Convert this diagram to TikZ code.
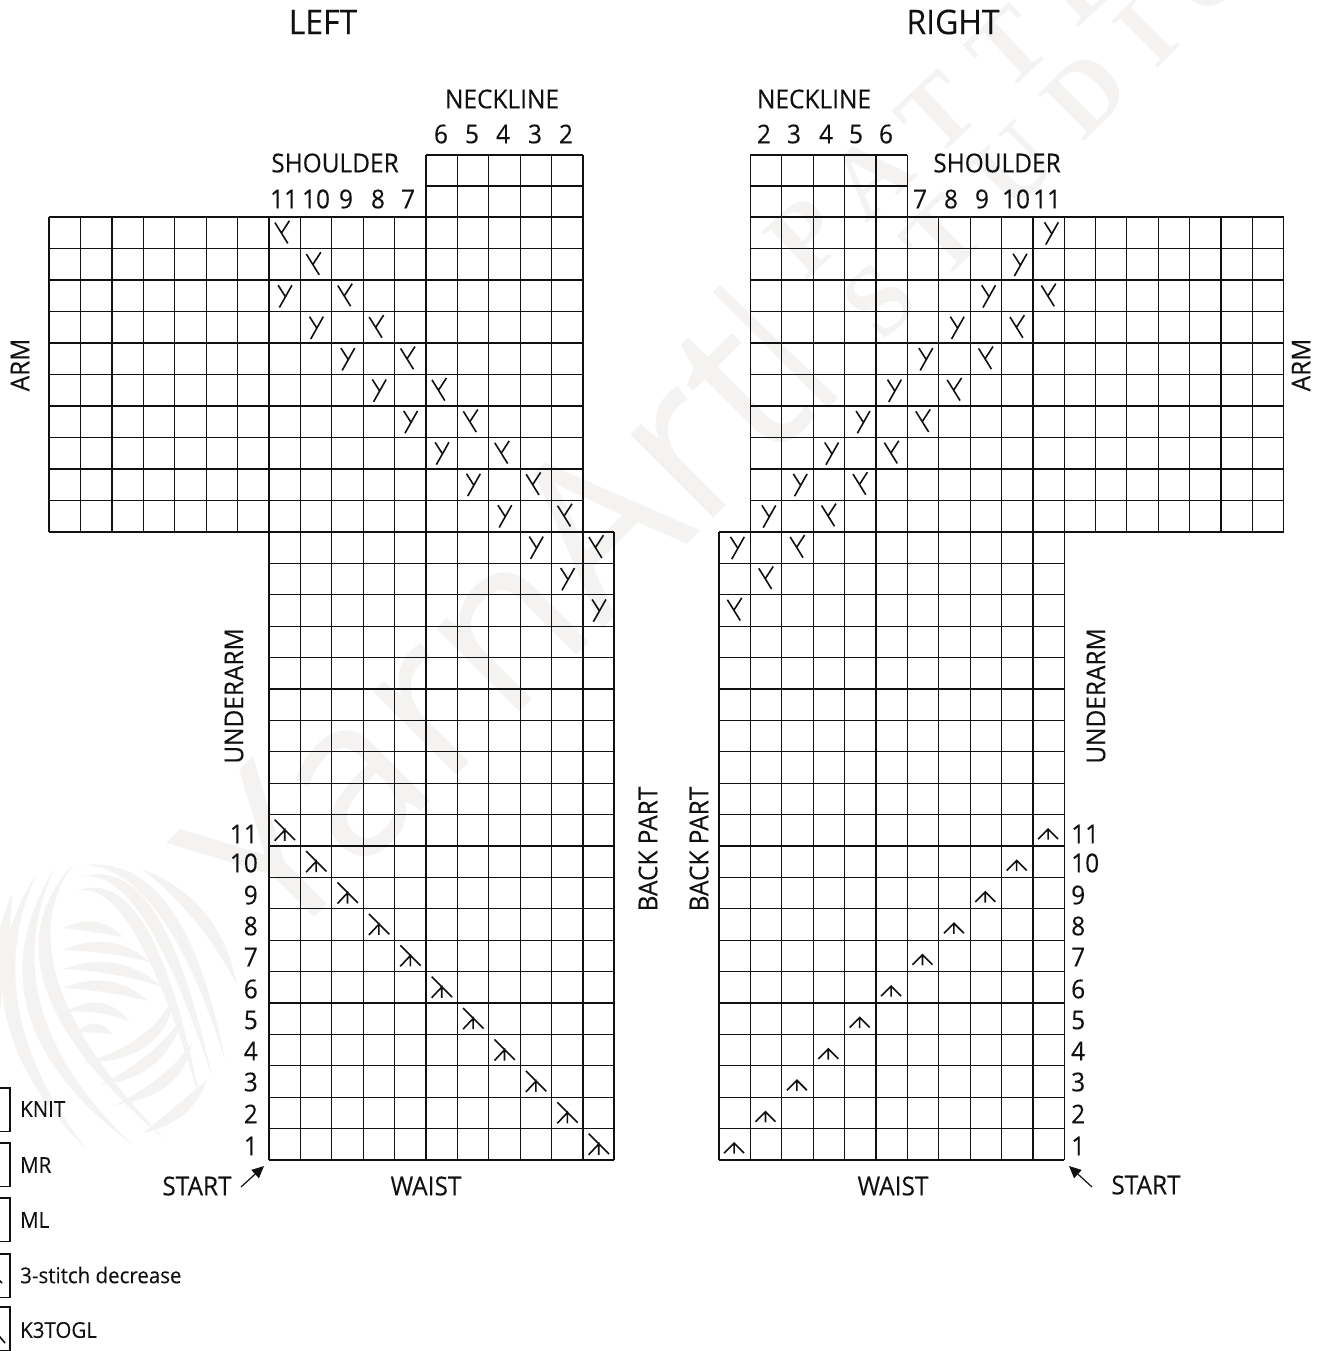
\documentclass[tikz,border=0pt]{standalone}
\usepackage{fontspec}
\setmainfont{Open Sans}[FakeStretch=0.94,FakeBold=0.15]
\newfontfamily\wmsans{Open Sans}
\newfontfamily\wmserif{Liberation Serif}[LetterSpace=30]
\usetikzlibrary{arrows.meta}
\definecolor{ink}{HTML}{111111}
\definecolor{wmcol}{HTML}{F4F3F2}
\newcommand\wmk[7]{%
  \pgfmathsetmacro\qxx{2*#3-(#1+#5)/2}%
  \pgfmathsetmacro\qyy{2*#4-(#2+#6)/2}%
  \pgfmathsetmacro\lenn{veclen(#5-#1,#6-#2)}%
  \pgfmathsetmacro\nxx{-(#6-#2)/\lenn*#7*0.85}%
  \pgfmathsetmacro\nyy{(#5-#1)/\lenn*#7*0.85}%
  \pgfmathsetmacro\axx{#1+2/3*(\qxx-#1)}%
  \pgfmathsetmacro\ayy{#2+2/3*(\qyy-#2)}%
  \pgfmathsetmacro\bxx{#5+2/3*(\qxx-#5)}%
  \pgfmathsetmacro\byy{#6+2/3*(\qyy-#6)}%
  \fill[wmcol] (#1,#2) .. controls ({\axx+\nxx},{\ayy+\nyy}) and ({\bxx+\nxx},{\byy+\nyy}) .. (#5,#6) .. controls ({\bxx-\nxx},{\byy-\nyy}) and ({\axx-\nxx},{\ayy-\nyy}) .. (#1,#2);}
\tikzset{
  x=1pt,y=-1pt,
  gridline/.style={draw=ink,line width=1.3pt},
  symline/.style={draw=ink,line width=1.6pt},
  lab/.style={inner sep=0pt,font=\fontsize{26}{30}\selectfont,text=ink},
  ttl/.style={lab,font=\fontsize{34}{38}\selectfont},
  vlab/.style={lab,rotate=90},
  leg/.style={inner sep=0pt,anchor=west,font=\fontsize{21.8}{25}\selectfont,text=ink},
  legbox/.style={draw=ink,line width=1.1pt},
  startarrow/.style={draw=ink,line width=1.2pt,-{Triangle[length=12pt,width=11pt]}},
  ymirror/.pic={\draw[symline] (0.19*31.4,0.18*31.4) -- (0.6*31.4,0.84*31.4) (0.41*31.4,0.49*31.4) -- (0.65*31.4,0.12*31.4);},
  yplain/.pic={\draw[symline] (0.33*31.4,0.88*31.4) -- (0.73*31.4,0.17*31.4) (0.29*31.4,0.17*31.4) -- (0.52*31.4,0.53*31.4);},
  decleft/.pic={\draw[symline] (0.18*31.4,0.15*31.4) -- (0.83*31.4,0.8*31.4) (0.18*31.4,0.82*31.4) -- (0.5*31.4,0.48*31.4) -- (0.5*31.4,0.82*31.4);},
  decright/.pic={\draw[symline] (0.16*31.4,0.78*31.4) -- (0.48*31.4,0.46*31.4) -- (0.8*31.4,0.78*31.4) (0.48*31.4,0.46*31.4) -- (0.48*31.4,0.8*31.4);},
}
\begin{document}
\begin{tikzpicture}
\useasboundingbox (0,0) rectangle (1325,1351);
\clip (0,0) rectangle (1325,1351);
% watermark
\node[inner sep=0pt,anchor=base west,rotate=45,text=wmcol,font=\wmsans\fontsize{220}{220}\selectfont] (wmA) at (277,955) {YarnArt};
\fill[wmcol] (713,292) -- (720,285) -- (838,398) -- (828,408) -- cycle;
\node[inner sep=0pt,anchor=base west,rotate=43,text=wmcol,font=\wmserif\bfseries\fontsize{100}{100}\selectfont] (wmB) at (805,282) {PATTERN};
\node[inner sep=0pt,anchor=base west,rotate=45,text=wmcol,font=\wmserif\bfseries\fontsize{100}{100}\selectfont] (wmC) at (882,344) {STUDIO};
% yarn ball
\wmk{12}{895}{2}{950}{0}{1010}{9}
\wmk{37}{873}{12}{1010}{87}{1150}{11}
\wmk{55}{867}{35}{1010}{133}{1145}{11}
\wmk{75}{862}{52}{985}{165}{1140}{11}
\wmk{85}{865}{165}{912}{225}{1060}{10}
\wmk{82}{877}{150}{917}{212}{1077}{10}
\wmk{75}{892}{140}{930}{200}{1100}{10}
\wmk{142}{869}{200}{917}{237}{985}{10}
\wmk{63}{928}{95}{927}{123}{937}{8}
\wmk{63}{950}{108}{948}{150}{962}{9}
\wmk{63}{969}{115}{969}{162}{987}{9}
\wmk{63}{988}{108}{987}{148}{1001}{9}
\wmk{65}{1012}{100}{1008}{130}{1022}{8}
\wmk{77}{1033}{95}{1028}{113}{1035}{7}
\wmk{175}{993}{145}{1040}{83}{1063}{9}
\wmk{183}{1017}{150}{1060}{100}{1085}{9}
\wmk{192}{1042}{165}{1080}{115}{1105}{9}
\wmk{207}{1080}{180}{1110}{143}{1133}{9}
% left chart grid
\foreach \i in {0,...,9} \draw[gridline] (49,217+\i*31.5) -- (583,217+\i*31.5);
\draw[gridline] (49,532) -- (614,532);
\foreach \j in {1,...,20} \draw[gridline] (269,532+\j*31.4) -- (614,532+\j*31.4);
\foreach \y in {155,186} \draw[gridline] (426,\y) -- (583,\y);
\foreach \k in {0,...,6} \draw[gridline] (49+\k*31.43,217) -- (49+\k*31.43,532);
\foreach \k in {0,...,4} \draw[gridline] (269+\k*31.4,217) -- (269+\k*31.4,1160);
\foreach \k in {5,...,10} \draw[gridline] (269+\k*31.4,155) -- (269+\k*31.4,1160);
\draw[gridline] (614,532) -- (614,1160);
% right chart grid
\foreach \i in {0,...,10} \draw[gridline] (750,217+\i*31.5) -- (1283.6,217+\i*31.5);
\foreach \j in {0,...,20} \draw[gridline] (719,532+\j*31.4) -- (1064,532+\j*31.4);
\foreach \y in {155,186} \draw[gridline] (750,\y) -- (907,\y);
\draw[gridline] (719,532) -- (719,1160);
\foreach \k in {1,...,6} \draw[gridline] (719+\k*31.4,155) -- (719+\k*31.4,1160);
\foreach \k in {7,...,11} \draw[gridline] (719+\k*31.4,217) -- (719+\k*31.4,1160);
\foreach \k in {1,...,7} \draw[gridline] (1064+\k*31.4,217) -- (1064+\k*31.4,532);
% symbols
\foreach \i in {0,...,10} {
  \pic at (269+\i*31.4,217+\i*31.45) {ymirror};
  \pic at (269+\i*31.4,217+2*31.45+\i*31.42) {yplain};
  \pic at (269+\i*31.4,815+\i*31.4) {decleft};
  \pic at (719+2.4+31.4*10-\i*31.4,217+\i*31.45) {yplain};
  \pic at (719+2.4+31.4*10-\i*31.4,217+2*31.45+\i*31.42) {ymirror};
  \pic at (719+\i*31.4,1128.6-\i*31.4) {decright};
}
% top labels
\node[ttl] (lefttitle) at (323,22) {LEFT};
\node[ttl] (righttitle) at (953,22) {RIGHT};
\node[lab] (neckL) at (502,99) {NECKLINE};
\node[lab] (neckR) at (814,99) {NECKLINE};
\node[lab] (shL) at (335,163) {SHOULDER};
\node[lab] (shR) at (997,163) {SHOULDER};
\foreach \t/\x in {6/441,5/472,4/503,3/535,2/566} \node[lab] (nl\t) at (\x,134) {\t};
\foreach \t/\x in {2/764,3/794,4/826,5/856,6/886} \node[lab] (nr\t) at (\x,134) {\t};
\foreach \t/\x in {11/284,10/316,9/346,8/378,7/408} \node[lab] (sl\t) at (\x,199) {\t};
\foreach \t/\x in {7/920,8/951,9/982,10/1016,11/1047} \node[lab] (sr\t) at (\x,199) {\t};
\node[vlab] (armL) at (20,365) {ARM};
\node[vlab] (armR) at (1301,365) {ARM};
\node[vlab] (uaL) at (234,696) {UNDERARM};
\node[vlab] (uaR) at (1096,696) {UNDERARM};
\node[vlab] (bpL) at (648,849) {BACK PART};
\node[vlab] (bpR) at (699,849) {BACK PART};
% row numbers
\foreach \t/\y in {11/834,10/863,9/895,8/926,7/957,6/989,5/1020,4/1051,3/1082,2/1114,1/1146} {
  \node[lab,anchor=east] (rl\t) at (258,\y) {\t};
  \node[lab,anchor=west] (rr\t) at (1071,\y) {\t};
}
\node[lab] (startL) at (197,1186) {START};
\node[lab] (startR) at (1146,1185) {START};
\node[lab] (waistL) at (426,1186) {WAIST};
\node[lab] (waistR) at (893,1186) {WAIST};
\coordinate (aLs) at (241,1187); \coordinate (aLe) at (264,1166);
\coordinate (aRs) at (1092,1187); \coordinate (aRe) at (1069,1166);
\draw[startarrow] (aLs) -- (aLe);
\draw[startarrow] (aRs) -- (aRe);
% legend
\foreach \y in {1088,1143,1198,1254,1307} \draw[legbox] (-34,\y) rectangle (10,\y+43.5);
\draw[symline] (-5,1331) -- (5,1343);
\draw[symline] (-5,1276) -- (2,1283);
\node[leg] (lg1) at (20,1109) {KNIT};
\node[leg] (lg2) at (20,1165) {MR};
\node[leg] (lg3) at (20,1220) {ML};
\node[leg] (lg4) at (20,1275) {3-stitch decrease};
\node[leg] (lg5) at (20,1330) {K3TOGL};
\end{tikzpicture}
\end{document}
